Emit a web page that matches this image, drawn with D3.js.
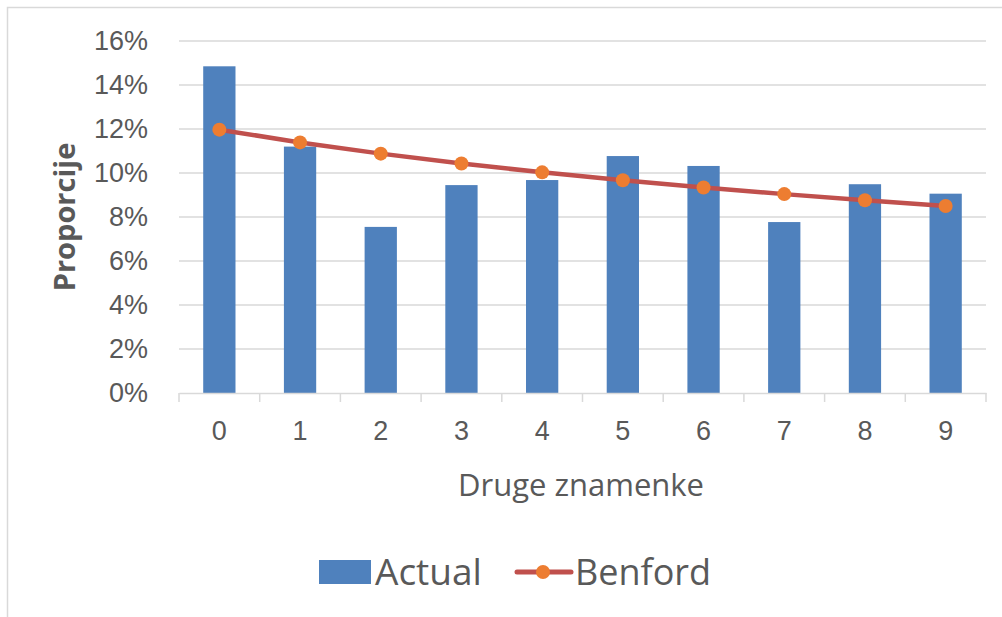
<!DOCTYPE html>
<html>
<head>
<meta charset="utf-8">
<script src="https://cdn.jsdelivr.net/npm/d3@7"></script>
<style>
  body { margin: 0; background: #fff; }
  svg { display: block; font-family: "Open Sans", "Noto Sans", sans-serif; }
</style>
</head>
<body>
<svg id="chart"></svg>
<script>
// second digit proportions
var digits = ["0", "1", "2", "3", "4", "5", "6", "7", "8", "9"];
var actual = [0.1485, 0.112, 0.0755, 0.0945, 0.0968, 0.1077, 0.1032, 0.0777, 0.0949, 0.0906];
var benford = [0.1197, 0.1139, 0.1088, 0.1043, 0.1003, 0.0967, 0.0934, 0.0904, 0.0876, 0.0850];
var yTicks = [0, 0.02, 0.04, 0.06, 0.08, 0.10, 0.12, 0.14, 0.16];

var W = 1002, H = 617;
var margin = {top: 41, right: 16, bottom: 224, left: 179};
var width = W - margin.left - margin.right,
    height = H - margin.top - margin.bottom;

var svg = d3.select("#chart").attr("width", W).attr("height", H);

// outer frame
svg.append("rect")
  .attr("x", 7.5).attr("y", 7.5)
  .attr("width", W).attr("height", H)
  .attr("fill", "none").attr("stroke", "#d9d9d9").attr("stroke-width", 1.5);

var g = svg.append("g").attr("transform", "translate(" + margin.left + "," + margin.top + ")");

var x = d3.scaleBand().domain(digits).range([0, width]).paddingInner(0.6).paddingOuter(0.3);
var xs = d3.scaleBand().domain(digits).range([0, width]);
var y = d3.scaleLinear().domain([0, 0.16]).range([height, 0]);

// gridlines
g.append("g").selectAll("line").data(yTicks.slice(1)).enter().append("line")
  .attr("x1", 0).attr("x2", width)
  .attr("y1", d => y(d)).attr("y2", d => y(d))
  .attr("stroke", "#d9d9d9").attr("stroke-width", 1.3);

// y axis labels
var yAxis = g.append("g")
  .call(d3.axisLeft(y).tickValues(yTicks).tickFormat(d3.format(".0%")).tickSize(0).tickPadding(31));
yAxis.select(".domain").remove();
yAxis.selectAll("text").attr("fill", "#595959").style("font-size", "27px");

// bars
g.selectAll(".bar").data(actual).enter().append("rect")
  .attr("class", "bar")
  .attr("x", (d, i) => x(digits[i]))
  .attr("width", x.bandwidth())
  .attr("y", d => y(d))
  .attr("height", d => height - y(d))
  .attr("fill", "#4f81bd");

// x axis
var xAxis = g.append("g")
  .attr("transform", "translate(0," + height + ")")
  .call(d3.axisBottom(xs).tickSize(0).tickPadding(28));
xAxis.select(".domain").attr("stroke", "#d9d9d9").attr("stroke-width", 1.5);
xAxis.selectAll("text").attr("fill", "#595959").style("font-size", "27px");
var bounds = digits.map(d => xs(d)).concat([width]);
xAxis.selectAll(".sep").data(bounds).enter().append("line")
  .attr("x1", d => d).attr("x2", d => d)
  .attr("y1", 0).attr("y2", 9)
  .attr("stroke", "#d9d9d9").attr("stroke-width", 1.5);

// benford line
var line = d3.line()
  .x((d, i) => xs(digits[i]) + xs.bandwidth() / 2)
  .y(d => y(d));
g.append("path").datum(benford)
  .attr("d", line)
  .attr("fill", "none").attr("stroke", "#c0504d").attr("stroke-width", 4.5);
g.selectAll(".pt").data(benford).enter().append("circle")
  .attr("class", "pt")
  .attr("cx", (d, i) => xs(digits[i]) + xs.bandwidth() / 2)
  .attr("cy", d => y(d))
  .attr("r", 7)
  .attr("fill", "#ed7d31");

// axis titles
svg.append("text")
  .attr("transform", "translate(75," + (margin.top + height / 2) + ") rotate(-90)")
  .attr("text-anchor", "middle")
  .attr("fill", "#595959").style("font-size", "29px").style("font-weight", "bold")
  .text("Proporcije");
svg.append("text")
  .attr("x", 581).attr("y", 496)
  .attr("text-anchor", "middle")
  .attr("fill", "#595959").style("font-size", "31px")
  .text("Druge znamenke");

// legend
var lg = svg.append("g");
lg.append("rect").attr("x", 319).attr("y", 560).attr("width", 52).attr("height", 24).attr("fill", "#4f81bd");
lg.append("text").attr("x", 375).attr("y", 585).attr("fill", "#595959").style("font-size", "37px").text("Actual");
lg.append("line").attr("x1", 517).attr("x2", 571).attr("y1", 572).attr("y2", 572)
  .attr("stroke", "#c0504d").attr("stroke-width", 5).attr("stroke-linecap", "round");
lg.append("circle").attr("cx", 543).attr("cy", 572).attr("r", 7).attr("fill", "#ed7d31");
lg.append("text").attr("x", 575).attr("y", 585).attr("fill", "#595959").style("font-size", "36px").text("Benford");
</script>
</body>
</html>
